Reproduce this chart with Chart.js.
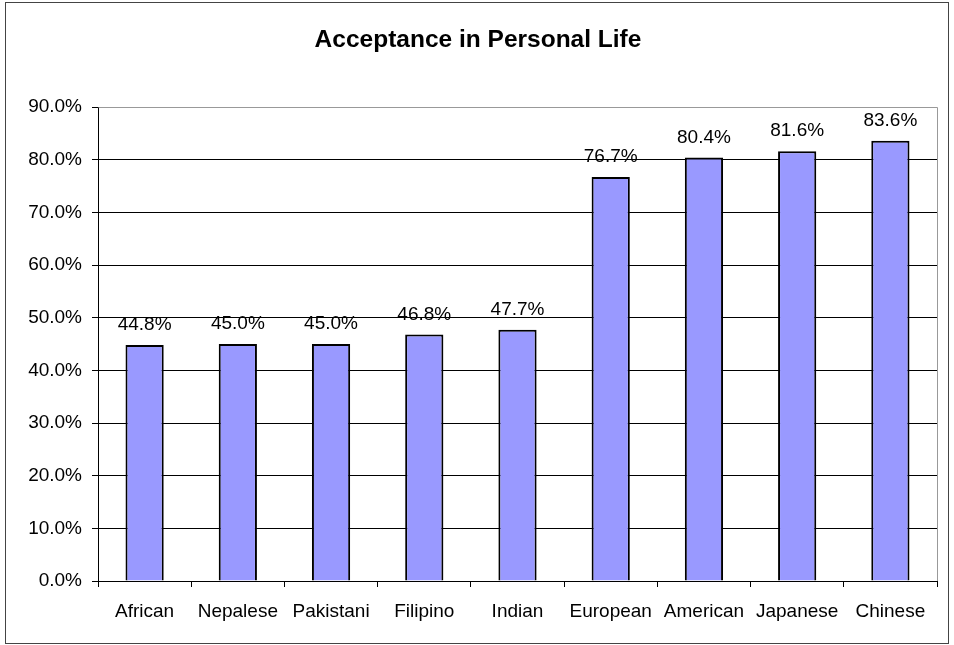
<!DOCTYPE html>
<html>
<head>
<meta charset="utf-8">
<script src="https://cdn.jsdelivr.net/npm/chart.js@4.4.1/dist/chart.umd.min.js"></script>
<style>
  html, body { margin: 0; padding: 0; background: #fff; }
  #wrap { width: 954px; height: 645px; position: relative; }
</style>
</head>
<body>
<div id="wrap"><canvas id="grafica"></canvas></div>
<script>
// datos
const categorias = ["African", "Nepalese", "Pakistani", "Filipino", "Indian", "European", "American", "Japanese", "Chinese"];
const valores = [44.8, 45.0, 45.0, 46.8, 47.7, 76.7, 80.4, 81.6, 83.6];
const etiquetasY = ["0.0%", "10.0%", "20.0%", "30.0%", "40.0%", "50.0%", "60.0%", "70.0%", "80.0%", "90.0%"];
const titulo = "Acceptance in Personal Life";

const FONT = "'Liberation Sans', Arial, sans-serif";

// marco exterior, titulo y borde gris del area de trazado
const marco = {
    id: "marco",
    beforeDraw(chart) {
        const c = chart.ctx;
        c.save();
        c.fillStyle = "#fff";
        c.fillRect(0, 0, chart.width, chart.height);
        c.strokeStyle = "#444";
        c.lineWidth = 1;
        c.strokeRect(5.5, 2.5, 943, 641);
        // titulo centrado en el marco
        c.font = "bold 24.5px " + FONT;
        c.fillStyle = "#000";
        c.textAlign = "center";
        c.textBaseline = "alphabetic";
        c.fillText(titulo, 478, 46.5);
        c.restore();
    },
    afterDraw(chart) {
        const a = chart.chartArea;
        const c = chart.ctx;
        c.save();
        c.strokeStyle = "#999";
        c.lineWidth = 1;
        c.beginPath();
        c.moveTo(Math.round(a.left) + 0.5, Math.round(a.top) + 0.5);
        c.lineTo(Math.round(a.right) + 0.5, Math.round(a.top) + 0.5);
        c.lineTo(Math.round(a.right) + 0.5, Math.round(a.bottom));
        c.stroke();
        c.restore();
    }
};

// valores encima de cada barra
const etiquetas = {
    id: "etiquetas",
    afterDatasetsDraw(chart) {
        const c = chart.ctx;
        const meta = chart.getDatasetMeta(0);
        c.save();
        c.font = "19px " + FONT;
        c.fillStyle = "#000";
        c.textAlign = "center";
        c.textBaseline = "alphabetic";
        meta.data.forEach((bar, i) => {
            c.fillText(valores[i].toFixed(1) + "%", bar.x, bar.y - 15);
        });
        c.restore();
    }
};

new Chart(document.getElementById("grafica"), {
    type: "bar",
    data: {
        labels: categorias,
        datasets: [{
            data: valores,
            backgroundColor: "#9999FF",
            borderColor: "#000",
            borderWidth: 2,
            categoryPercentage: 1,
            barPercentage: 0.41
        }]
    },
    options: {
        responsive: true,
        maintainAspectRatio: false,
        animation: false,
        layout: { padding: { left: 0, right: 17, top: 107, bottom: 0 } },
        plugins: {
            legend: { display: false },
            tooltip: { enabled: false },
            title: { display: false }
        },
        scales: {
            y: {
                min: 0,
                max: 90,
                afterFit: s => { s.width = 98; },
                ticks: {
                    stepSize: 10,
                    color: "#000",
                    padding: 10,
                    font: { family: FONT, size: 19 },
                    callback: (v, i) => etiquetasY[i]
                },
                grid: {
                    color: ctx => (ctx.tick && ctx.tick.value === 90) ? "#999" : "#000",
                    tickColor: "#000",
                    tickLength: 6,
                    lineWidth: 1
                },
                border: { display: true, color: "#000", width: 1 }
            },
            x: {
                afterFit: s => { s.height = 64; },
                ticks: {
                    color: "#000",
                    padding: 13,
                    maxRotation: 0,
                    autoSkip: false,
                    font: { family: FONT, size: 19 }
                },
                grid: {
                    offset: true,
                    drawOnChartArea: false,
                    color: "#000",
                    tickLength: 6
                },
                border: { display: true, color: "#000", width: 1 }
            }
        }
    },
    plugins: [marco, etiquetas]
});
</script>
</body>
</html>
